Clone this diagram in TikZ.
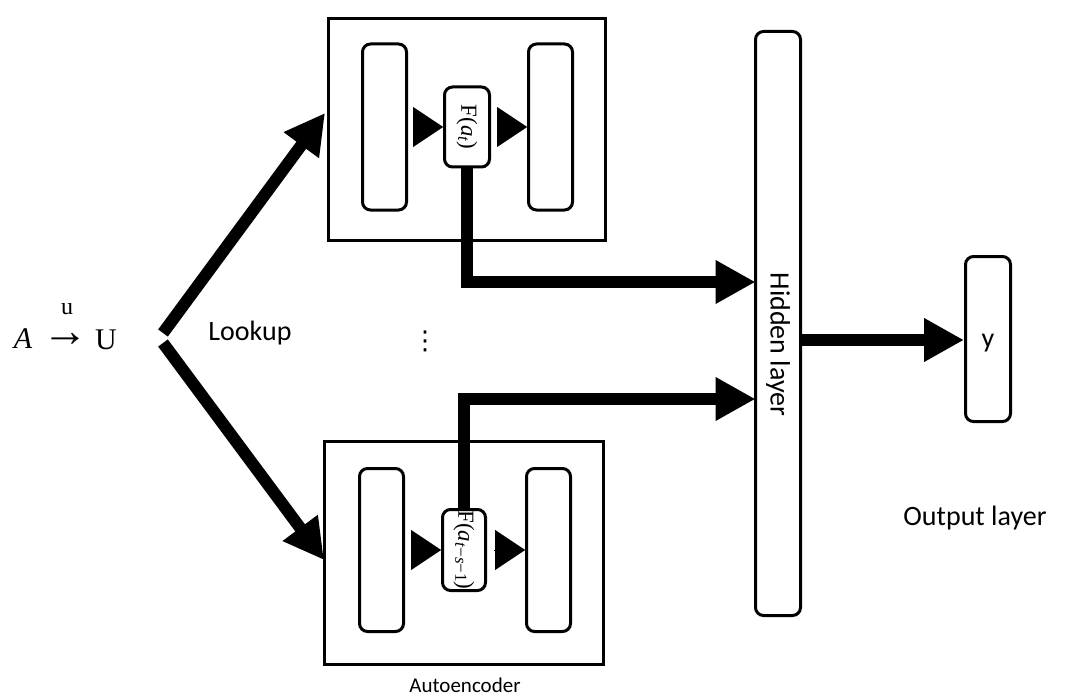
\documentclass[tikz,border=0pt]{standalone}
\usepackage[no-math]{fontspec}
\setmainfont{Carlito}
\newfontfamily\serifx{Liberation Serif}
\newfontfamily\symx{DejaVu Sans}
\newcommand{\subx}[1]{\raisebox{-0.3ex}{\fontsize{17}{18}\selectfont #1}}
\usetikzlibrary{arrows.meta}
\begin{document}
\begin{tikzpicture}[x=1pt,y=-1pt,
  frame/.style={draw, line width=3pt, inner sep=0pt},
  layer/.style={draw, line width=3pt, rounded corners=8pt, inner sep=0pt, fill=white},
  bigarrow/.style={line width=12pt, line join=miter, -{Triangle[length=40pt,width=41pt]}},
  smalltri/.style={line width=0.1pt, -{Triangle[length=30pt,width=40pt]}, shorten <=7pt},
  lbl/.style={font=\fontsize{28}{30}\selectfont, inner sep=0pt},
  ftext/.style={font=\serifx\fontsize{23}{24}\selectfont, inner sep=0pt, rotate=-90},
  mathtxt/.style={font=\serifx\fontsize{30}{32}\selectfont, inner sep=0pt}]
\useasboundingbox (0,0) rectangle (1066,698);

% outer autoencoder frames
\node[frame, minimum width=277pt, minimum height=222pt] (B1) at (467,129.5) {};
\node[frame, minimum width=279pt, minimum height=223pt] (B2) at (464,553) {};

% inner layers, top
\node[layer, minimum width=44pt, minimum height=166pt] (L1) at (384.5,127) {};
\node[layer, minimum width=44pt, minimum height=166pt] (R1) at (550.5,127) {};
\node[layer, minimum width=45pt, minimum height=80pt] (F1) at (467,127) {};
\node[ftext] (F1t) at (F1) {F(\textit{a}\subx{\textit{t}})};

% inner layers, bottom
\node[layer, minimum width=44pt, minimum height=163pt] (L2) at (381.5,550) {};
\node[layer, minimum width=44pt, minimum height=163pt] (R2) at (548.5,550) {};
\node[layer, minimum width=43pt, minimum height=81pt] (F2) at (464,550) {};
\node[ftext] (F2t) at (F2) {F(\textit{a}\subx{\textit{t}−\textit{s}−1})};

% small arrows inside
\draw[smalltri] (L1) -- (F1);
\draw[smalltri] (F1) -- (R1);
\draw[smalltri] (L2) -- (F2);
\draw[smalltri] (F2) -- (R2);

% hidden and output layers
\node[layer, minimum width=45pt, minimum height=584pt] (H) at (778,323.5) {};
\node[lbl, rotate=-90] (Ht) at (778,344.5) {Hidden layer};
\node[layer, minimum width=45pt, minimum height=165pt] (Y) at (988,339) {};
\node[lbl] (Yt) at (988,343) {y};
\node[lbl] (out) at (975,518) {Output layer};
\node[font=\fontsize{21}{24}\selectfont, inner sep=0pt] (ae) at (465,685) {Autoencoder};

% connectors into hidden layer
\coordinate (hin1) at (755.5,282);
\coordinate (hin2) at (755.5,399);
\draw[bigarrow] (F1.south) |- (hin1);
\draw[bigarrow] (F2.north) |- (hin2);
\coordinate (hout) at (800.5,340);
\draw[bigarrow] (hout) -- (Y.west |- hout);

% lookup
\coordinate (apex1) at (163,333);
\coordinate (apex2) at (163,343);
\coordinate (tip1) at (325,113);
\coordinate (tip2) at (324,560);
\draw[bigarrow] (apex1) -- (tip1);
\draw[bigarrow] (apex2) -- (tip2);
\node[lbl, anchor=base] (lookup) at (250,340) {Lookup};
\node[font=\symx\fontsize{26}{28}\selectfont, inner sep=0pt] (dots) at (425,341) {⋮};

% mapping A -> U
\node[mathtxt] (A) at (23,339) {\textit{A}};
\node[font=\serifx\fontsize{46}{48}\selectfont, inner sep=0pt] (arr) at (65,340) {→};
\node[mathtxt] (U) at (106,340) {U};
\node[font=\serifx\fontsize{24}{26}\selectfont, inner sep=0pt] (u) at (67,309) {u};
\end{tikzpicture}
\end{document}
